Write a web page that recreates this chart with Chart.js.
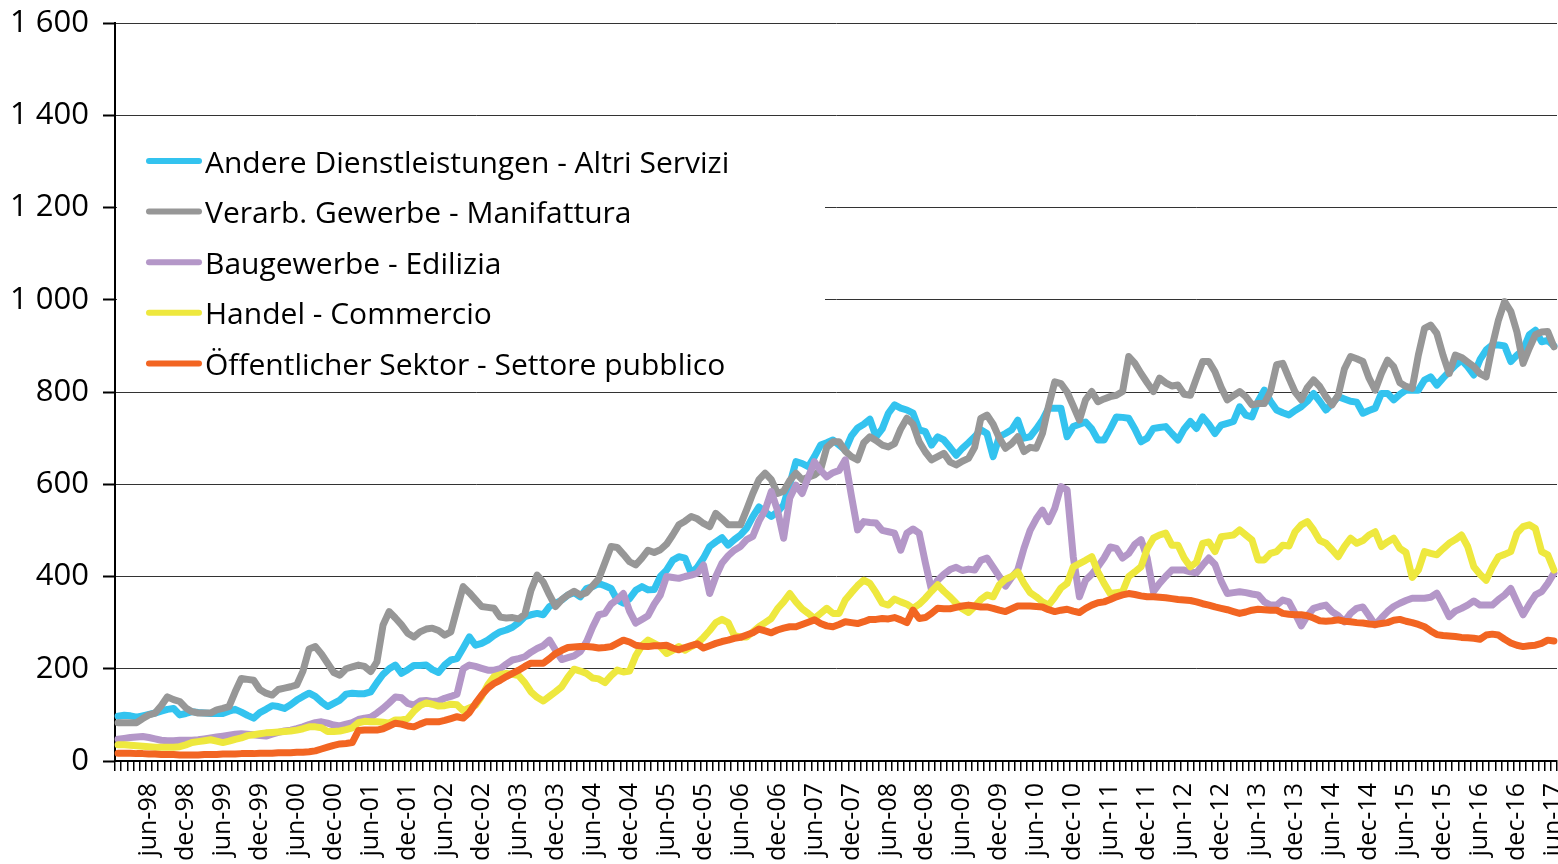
<!DOCTYPE html>
<html>
<head>
<meta charset="utf-8">
<script src="https://cdn.jsdelivr.net/npm/chart.js@4.4.1/dist/chart.umd.min.js"></script>
<style>
html,body{margin:0;padding:0;background:#fff;}
canvas{display:block;}
</style>
</head>
<body>
<canvas id="c" width="1558" height="864"></canvas>
<script>
// ---- data ----
const monthNames = ['jan','feb','mar','apr','may','jun','jul','aug','sep','oct','nov','dec'];
const firstYear = 1998;
const lastMonthCount = 234; // jan-98 .. jun-17

const seriesNames = [
  'Andere Dienstleistungen - Altri Servizi',
  'Verarb. Gewerbe - Manifattura',
  'Baugewerbe - Edilizia',
  'Handel - Commercio',
  'Öffentlicher Sektor - Settore pubblico'
];
const seriesColors = ['#33C3EF', '#979797', '#B497C8', '#EEE83E', '#F26522'];

const andere = [
  97, 99, 98, 95, 98, 101, 104, 108, 112, 114, 100, 103,
  107, 105, 104, 103, 103, 103, 108, 112, 106, 99, 93, 105,
  112, 120, 118, 114, 122, 132, 140, 147, 140, 128, 118, 125,
  132, 145, 147, 146, 146, 150, 170, 188, 200, 208, 190, 198,
  207, 207, 208, 198, 192, 208, 219, 222, 245, 269, 251, 255,
  262, 272, 280, 284, 290, 300, 313, 317, 320, 317, 335, 342,
  349, 360, 365, 356, 374, 378, 385, 380, 374, 349, 342, 352,
  370, 378, 371, 372, 400, 414, 435, 443, 440, 407, 420, 440,
  465, 475, 484, 468, 480, 490, 505, 530, 551, 540, 530, 540,
  555, 600, 649, 645, 638, 660, 685, 690, 696, 685, 674, 705,
  722, 730, 741, 703, 720, 754, 772, 765, 761, 754, 718, 714,
  685, 703, 696, 680, 663, 678, 690, 703, 718, 710, 660, 703,
  710, 718, 739, 700, 703, 720, 739, 765, 765, 765, 703, 725,
  730, 735, 720, 696, 696, 720, 746, 745, 743, 720, 692, 700,
  721, 723, 725, 710, 696, 720, 736, 721, 746, 730, 710, 728,
  732, 736, 768, 750, 746, 780, 804, 780, 761, 755, 750, 760,
  768, 780, 797, 780, 761, 775, 790, 785, 780, 778, 754, 760,
  765, 797, 797, 783, 795, 804, 804, 804, 826, 833, 815, 830,
  844, 858, 869, 855, 837, 870, 891, 902, 902, 900, 866, 880,
  891, 924, 934, 909, 912, 900
];
const verarb = [
  83, 83, 83, 83, 92, 100, 104, 120, 139, 133, 129, 115,
  107, 104, 104, 104, 111, 114, 118, 150, 179, 177, 175, 155,
  147, 143, 155, 158, 161, 165, 195, 243, 248, 232, 212, 192,
  186, 200, 204, 208, 205, 194, 215, 295, 324, 310, 295, 277,
  269, 280, 286, 288, 283, 273, 280, 330, 378, 365, 350, 335,
  333, 331, 312, 310, 311, 308, 318, 370, 403, 388, 360, 335,
  350, 360, 368, 360, 365, 380, 395, 430, 465, 463, 448, 432,
  425, 440, 457, 452, 458, 470, 490, 512, 520, 530, 525, 515,
  508, 537, 525, 512, 512, 512, 545, 580, 610, 624, 610, 580,
  585, 608, 624, 610, 615, 620, 631, 680, 692, 692, 672, 660,
  653, 690, 703, 695, 685, 681, 688, 720, 743, 730, 692, 670,
  653, 660, 667, 648, 642, 650, 656, 680, 743, 750, 730, 700,
  678, 688, 703, 671, 680, 678, 710, 770, 822, 818, 800, 770,
  739, 783, 801, 779, 785, 790, 793, 801, 877, 862, 840, 820,
  801, 830, 820, 813, 815, 795, 793, 830, 866, 866, 844, 810,
  783, 792, 801, 790, 772, 775, 775, 801, 859, 862, 830, 800,
  783, 810, 826, 812, 790, 772, 793, 850, 877, 872, 866, 830,
  804, 840, 869, 855, 820, 812, 808, 880, 938, 945, 927, 880,
  840, 880, 875, 865, 855, 840, 833, 900, 956, 996, 975, 930,
  862, 895, 924, 930, 931, 898
];
const bau = [
  47, 49, 51, 52, 53, 51, 48, 45, 44, 44, 45, 45,
  45, 46, 48, 50, 52, 54, 56, 58, 59, 58, 57, 55,
  54, 58, 62, 65, 67, 70, 74, 79, 83, 85, 82, 78,
  76, 80, 83, 90, 93, 95, 104, 114, 126, 139, 137, 125,
  121, 130, 131, 129, 130, 136, 140, 145, 200, 208, 205, 201,
  197, 197, 200, 210, 219, 222, 226, 236, 244, 250, 262, 240,
  220, 224, 228, 237, 258, 290, 317, 320, 340, 350, 363, 325,
  299, 307, 315, 340, 360, 400, 398, 396, 400, 403, 407, 425,
  363, 400, 429, 445, 457, 465, 480, 487, 520, 544, 584, 544,
  483, 570, 598, 580, 615, 649, 630, 616, 625, 630, 653, 575,
  501, 519, 517, 516, 500, 497, 494, 457, 494, 503, 494, 430,
  371, 392, 405, 415, 420, 413, 416, 414, 435, 440, 420, 400,
  379, 398, 414, 461, 500, 525, 544, 519, 548, 595, 588, 443,
  356, 392, 405, 421, 440, 464, 461, 440, 450, 470, 480, 440,
  367, 385, 400, 414, 414, 414, 410, 408, 425, 440, 426, 390,
  363, 365, 367, 365, 362, 360, 345, 338, 338, 349, 345, 320,
  293, 315, 331, 335, 338, 324, 315, 302, 320, 331, 334, 315,
  295, 310, 324, 335, 342, 348, 353, 353, 353, 355, 364, 340,
  313, 325, 331, 338, 347, 338, 338, 338, 350, 360, 374, 345,
  317, 340, 360, 367, 385, 407
];
const handel = [
  35, 35, 34, 33, 32, 31, 30, 30, 30, 30, 31, 35,
  40, 42, 44, 46, 43, 40, 43, 47, 50, 55, 57, 59,
  61, 62, 63, 64, 65, 67, 70, 74, 74, 72, 64, 64,
  65, 68, 72, 83, 86, 85, 85, 84, 82, 89, 89, 92,
  108, 120, 126, 123, 119, 120, 123, 122, 109, 115, 121, 140,
  165, 183, 187, 190, 188, 185, 170, 150, 138, 130, 140, 150,
  161, 182, 199, 195, 190, 180, 178, 170, 185, 197, 193, 195,
  228, 250, 262, 255, 248, 233, 240, 248, 240, 248, 255, 268,
  283, 300, 307, 300, 272, 269, 269, 280, 291, 300, 309, 330,
  345, 363, 345, 330, 320, 309, 320, 331, 320, 320, 349, 365,
  380, 392, 385, 365, 342, 338, 351, 345, 340, 331, 340, 353,
  368, 382, 368, 356, 342, 330, 322, 335, 350, 360, 356, 382,
  394, 400, 410, 385, 365, 356, 345, 338, 355, 375, 385, 421,
  428, 435, 443, 410, 385, 363, 365, 367, 400, 410, 421, 460,
  483, 490, 494, 468, 468, 440, 421, 431, 472, 475, 454, 486,
  488, 490, 501, 490, 479, 436, 436, 450, 454, 468, 466, 497,
  512, 519, 501, 478, 472, 458, 443, 465, 483, 472, 478, 490,
  497, 465, 475, 483, 461, 452, 398, 414, 454, 450, 447, 460,
  472, 480, 490, 465, 421, 405, 392, 420, 443, 448, 454, 494,
  508, 512, 504, 454, 447, 414
];
const oeffentlich = [
  17, 17, 17, 16, 16, 15, 15, 14, 14, 14, 13, 13,
  13, 13, 14, 14, 14, 15, 15, 15, 16, 16, 16, 17,
  17, 17, 18, 18, 18, 19, 19, 20, 22, 26, 30, 34,
  37, 38, 40, 66, 67, 67, 67, 70, 76, 82, 80, 76,
  74, 80, 85, 85, 85, 88, 92, 96, 93, 105, 125, 143,
  158, 168, 175, 183, 190, 197, 205, 212, 212, 212, 222, 233,
  240, 246, 247, 248, 248, 247, 245, 246, 248, 255, 262, 258,
  251, 249, 248, 250, 250, 251, 245, 241, 246, 250, 254, 245,
  250, 255, 259, 262, 266, 268, 273, 278, 286, 282, 278, 284,
  288, 291, 291, 296, 301, 306, 298, 293, 291, 296, 302, 300,
  298, 302, 307, 307, 309, 308, 311, 306, 300, 327, 309, 311,
  320, 331, 330, 330, 333, 336, 338, 336, 334, 334, 331, 327,
  324, 330, 336, 336, 336, 335, 334, 328, 324, 327, 329, 325,
  322, 331, 338, 343, 345, 350, 356, 360, 363, 361, 358, 356,
  356, 355, 354, 352, 350, 349, 348, 345, 341, 338, 334, 331,
  328, 324, 320, 323, 327, 329, 328, 327, 327, 320, 318, 317,
  317, 315, 310, 304, 303, 304, 306, 303, 302, 300, 299, 297,
  296, 298, 300, 305, 307, 303, 300, 296, 291, 282, 274, 272,
  271, 270, 268, 267, 266, 264, 273, 275, 273, 264, 256, 251,
  248, 250, 251, 255, 262, 260
];
const yTicks = [0, 200, 400, 600, 800, 1000, 1200, 1400, 1600];

// ---- categories (month labels) ----
const categories = [];
for (let i = 0; i < lastMonthCount; i++) {
  const y = firstYear + Math.floor(i / 12);
  categories.push(monthNames[i % 12] + '-' + String(y % 100).padStart(2, '0'));
}

const seriesData = [andere, verarb, bau, handel, oeffentlich];

function fmtThousands(v) {
  if (v >= 1000) return Math.floor(v / 1000) + ' ' + String(v % 1000).padStart(3, '0');
  return String(v);
}

const FONT = "'Open Sans', 'Noto Sans', sans-serif";
Chart.defaults.font.family = FONT;
Chart.defaults.color = '#000';

const insideLegend = {
  id: 'insideLegend',
  afterDraw(chart) {
    const ctx = chart.ctx;
    const a = chart.chartArea;
    ctx.save();
    ctx.fillStyle = '#ffffff';
    ctx.fillRect(a.left + 2, a.top + 108, 708, 258);
    ctx.font = '30px ' + FONT;
    ctx.textBaseline = 'alphabetic';
    ctx.textAlign = 'left';
    chart.data.datasets.forEach((ds, i) => {
      const yMid = a.top + 138 + i * 50.6;
      ctx.strokeStyle = ds.borderColor;
      ctx.lineWidth = 6;
      ctx.lineCap = 'round';
      ctx.beginPath();
      ctx.moveTo(a.left + 34, yMid);
      ctx.lineTo(a.left + 84, yMid);
      ctx.stroke();
      ctx.fillStyle = '#000';
      ctx.fillText(ds.label, a.left + 90, yMid + 11.5);
    });
    ctx.restore();
  }
};

new Chart(document.getElementById('c'), {
  type: 'line',
  data: {
    labels: categories,
    datasets: seriesData.map((d, i) => ({
      label: seriesNames[i],
      data: d,
      borderColor: seriesColors[i],
      backgroundColor: seriesColors[i],
      borderWidth: 7,
      order: 5 - i
    }))
  },
  options: {
    responsive: false,
    animation: false,
    events: [],
    layout: { padding: { top: 23, right: 1, left: 0, bottom: 0 } },
    plugins: { legend: { display: false }, tooltip: { enabled: false } },
    elements: {
      point: { radius: 0 },
      line: { borderWidth: 7, tension: 0, borderJoinStyle: 'round', borderCapStyle: 'round' }
    },
    scales: {
      x: {
        type: 'category',
        offset: true,
        grid: { display: true, drawOnChartArea: false, offset: true, color: '#000', lineWidth: 1.5, tickLength: 10 },
        border: { color: '#000', width: 2 },
        ticks: {
          autoSkip: false, minRotation: 90, maxRotation: 90, padding: 12,
          color: '#000', font: { size: 25 },
          callback: (v, i) => {
            const l = categories[i];
            return (l.startsWith('jun') || l.startsWith('dec')) ? l : '';
          }
        },
        afterFit: (s) => { s.height = 103; s.paddingLeft = 0; s.paddingRight = 0; }
      },
      y: {
        min: yTicks[0], max: yTicks[yTicks.length - 1],
        afterBuildTicks: (s) => { s.ticks = yTicks.map(v => ({ value: v })); },
        ticks: { color: '#000', font: { size: 31 }, padding: 14, callback: (v) => fmtThousands(v) },
        grid: { color: '#333', lineWidth: 1, tickLength: 12, tickColor: '#000', tickWidth: 2 },
        border: { color: '#000', width: 2 },
        afterFit: (s) => { s.width = 115; s.paddingTop = 0; s.paddingBottom = 0; }
      }
    }
  },
  plugins: [insideLegend]
});
</script>
</body>
</html>
